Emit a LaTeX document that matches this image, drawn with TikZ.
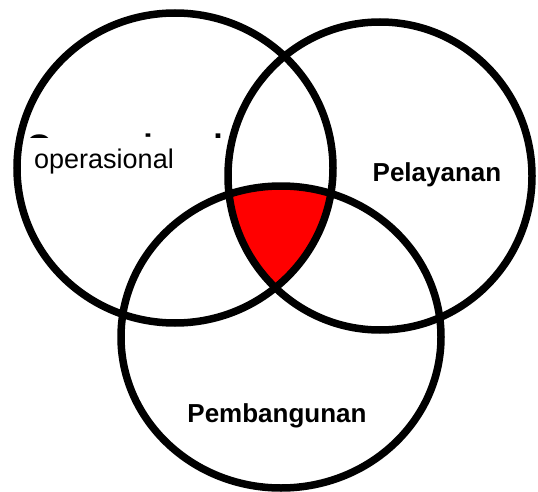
\documentclass[tikz,border=0pt]{standalone}
\usepackage{fontspec}
\setmainfont{Liberation Sans}
\usepackage{tikz}
\usetikzlibrary{positioning}
\tikzset{
  ring/.style={draw=black, line width=7.5pt},
  lbl/.style={font=\bfseries\fontsize{26}{31}\selectfont, inner sep=0pt},
  cover/.style={fill=white, inner sep=0pt, text height=30pt, text depth=8pt, font=\fontsize{27}{32}\selectfont}}

\begin{document}
\begin{tikzpicture}[x=1pt, y=-1pt]
  \useasboundingbox (0,0) rectangle (538,492);
  \coordinate (cop) at (175,168);
  \coordinate (cpl) at (380,176);
  \coordinate (cpb) at (281,337);
  % hidden title, partly covered
  \node[anchor=base west, inner sep=0pt, font=\bfseries\fontsize{34}{40}\selectfont] (big) at (26,158) {Operasional};
  \node[cover, anchor=base west] (op) at (26,168) {\makebox[198pt][l]{\hspace{8pt}operasional}};
  % common part
  \begin{scope}
    \clip (cop) ellipse[x radius=158, y radius=155];
    \clip (cpl) ellipse[x radius=152, y radius=154];
    \fill[red] (cpb) ellipse[x radius=160, y radius=151];
  \end{scope}
  \draw[ring] (cop) ellipse[x radius=158, y radius=155];
  \draw[ring] (cpl) ellipse[x radius=152, y radius=154];
  \draw[ring] (cpb) ellipse[x radius=160, y radius=151];
  \node[lbl] (pl) at (437,175) {Pelayanan};
  \node[lbl] (pb) at (277,416) {Pembangunan};
\end{tikzpicture}
\end{document}
